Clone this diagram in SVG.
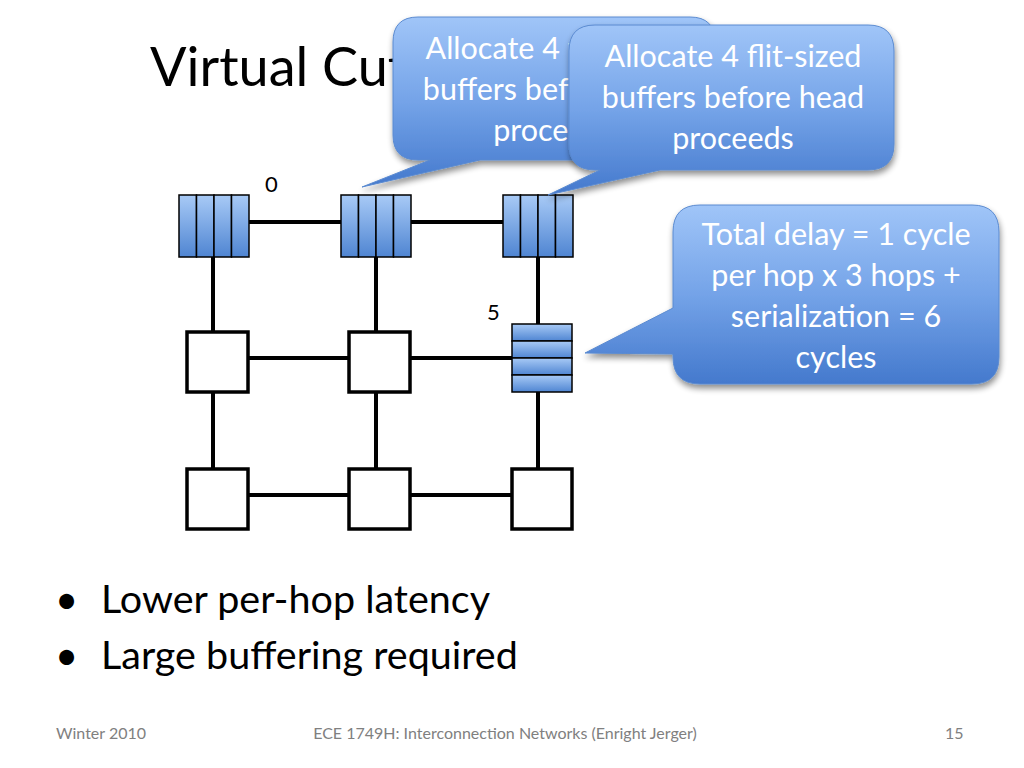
<svg xmlns="http://www.w3.org/2000/svg" width="1024" height="768" viewBox="0 0 1024 768">
<defs>
<linearGradient id="cg" x1="0" y1="0" x2="0" y2="1">
<stop offset="0" stop-color="#a0c5f8"/>
<stop offset="0.5" stop-color="#74a3e8"/>
<stop offset="1" stop-color="#4479cd"/>
</linearGradient>
<linearGradient id="bg" x1="0" y1="0" x2="0" y2="1">
<stop offset="0" stop-color="#a8caf6"/>
<stop offset="1" stop-color="#4f85d2"/>
</linearGradient>
<filter id="sh" x="-10%" y="-10%" width="130%" height="140%">
<feGaussianBlur in="SourceAlpha" stdDeviation="3"/>
<feOffset dx="1" dy="4"/>
<feComponentTransfer><feFuncA type="linear" slope="0.45"/></feComponentTransfer>
<feMerge><feMergeNode/><feMergeNode in="SourceGraphic"/></feMerge>
</filter>
</defs>
<style>
.t{font-family:Lato,"Open Sans",sans-serif;}
.ct{font-family:Lato,"Open Sans",sans-serif;font-size:30.5px;fill:#ffffff;text-anchor:middle;}
.link{stroke:#000;stroke-width:4;fill:none;}
.box{fill:#fff;stroke:#000;stroke-width:3.5;}
.buf{fill:url(#bg);stroke:#000;stroke-width:1.5;}
.foot{font-family:Lato,"Open Sans",sans-serif;font-size:16px;fill:#808080;}
.call{fill:url(#cg);stroke:#5a8ad0;stroke-width:1;filter:url(#sh);}
</style>
<rect width="1024" height="768" fill="#fff"/>
<text class="t" x="150" y="86" font-size="54" fill="#000">Virtual Cut-Through</text>

<g id="connectors">
<line class="link" x1="213" y1="222" x2="538" y2="222"/>
<line class="link" x1="213" y1="358" x2="538" y2="358"/>
<line class="link" x1="213" y1="495" x2="538" y2="495"/>
<line class="link" x1="213" y1="222" x2="213" y2="495"/>
<line class="link" x1="376" y1="222" x2="376" y2="495"/>
<line class="link" x1="538" y1="222" x2="538" y2="495"/>
</g>

<g id="n0">
<rect class="buf" x="179" y="195" width="17.5" height="62"/>
<rect class="buf" x="196.5" y="195" width="17.5" height="62"/>
<rect class="buf" x="214" y="195" width="17.5" height="62"/>
<rect class="buf" x="231.5" y="195" width="17.5" height="62"/>
<text class="t" x="265" y="192" font-size="22" fill="#000">0</text>
</g>
<g id="n1">
<rect class="buf" x="341" y="195" width="17.5" height="62"/>
<rect class="buf" x="358.5" y="195" width="17.5" height="62"/>
<rect class="buf" x="376" y="195" width="17.5" height="62"/>
<rect class="buf" x="393.5" y="195" width="17.5" height="62"/>
</g>
<g id="n2">
<rect class="buf" x="503" y="195" width="17.5" height="62"/>
<rect class="buf" x="520.5" y="195" width="17.5" height="62"/>
<rect class="buf" x="538" y="195" width="17.5" height="62"/>
<rect class="buf" x="555.5" y="195" width="17.5" height="62"/>
</g>
<g id="n3"><rect class="box" x="187" y="332" width="61" height="60"/></g>
<g id="n4"><rect class="box" x="349" y="332" width="61" height="60"/></g>
<g id="n5">
<rect class="buf" x="512" y="324" width="60" height="17"/>
<rect class="buf" x="512" y="341" width="60" height="17"/>
<rect class="buf" x="512" y="358" width="60" height="17"/>
<rect class="buf" x="512" y="375" width="60" height="17"/>
<text class="t" x="487" y="320" font-size="22" fill="#000">5</text>
</g>
<g id="n6"><rect class="box" x="187" y="469" width="61" height="60"/></g>
<g id="n7"><rect class="box" x="349" y="469" width="61" height="60"/></g>
<g id="n8"><rect class="box" x="512" y="469" width="60" height="60"/></g>

<g id="callout1">
<path class="call" d="M418,17 H690 Q715,17 715,42 V135 Q715,160 690,160 H480 L362,187 L430,160 H418 Q393,160 393,135 V42 Q393,17 418,17 Z"/>
<text class="ct" x="554" y="59">Allocate 4 flit-sized</text>
<text class="ct" x="554" y="100">buffers before head</text>
<text class="ct" x="554" y="141">proceeds</text>
</g>
<g id="callout2">
<path class="call" d="M595,25 H868 Q894,25 894,51 V144 Q894,170 868,170 H660 L548,195 L600,170 H595 Q569,170 569,144 V51 Q569,25 595,25 Z"/>
<text class="ct" x="733" y="67">Allocate 4 flit-sized</text>
<text class="ct" x="733" y="108">buffers before head</text>
<text class="ct" x="733" y="149">proceeds</text>
</g>
<g id="callout3">
<path class="call" d="M700,205 H972 Q999,205 999,232 V357 Q999,384 972,384 H700 Q673,384 673,357 V354 L585,353 L673,308 V232 Q673,205 700,205 Z"/>
<text class="ct" x="836" y="245">Total delay = 1 cycle</text>
<text class="ct" x="836" y="286">per hop x 3 hops +</text>
<text class="ct" x="836" y="327">serialization = 6</text>
<text class="ct" x="836" y="368">cycles</text>
</g>

<text class="t" x="55" y="614" font-size="40" fill="#000">•</text>
<text class="t" x="101" y="613" font-size="39.5" fill="#000">Lower per-hop latency</text>
<text class="t" x="55" y="670" font-size="40" fill="#000">•</text>
<text class="t" x="101" y="669" font-size="39.5" fill="#000">Large buffering required</text>

<text class="foot" x="56" y="739">Winter 2010</text>
<text class="foot" x="505" y="739" text-anchor="middle">ECE 1749H: Interconnection Networks (Enright Jerger)</text>
<text class="foot" x="945" y="739">15</text>
</svg>
